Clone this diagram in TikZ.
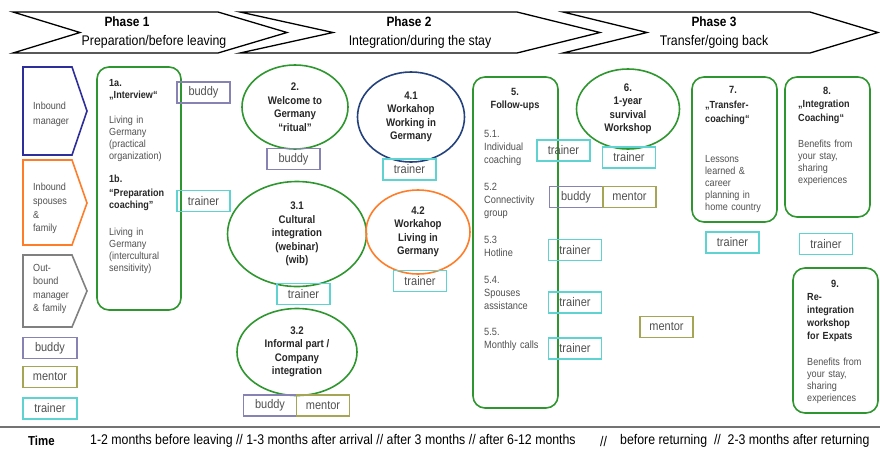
\documentclass[tikz,border=0pt]{standalone}
\usepackage{fontspec}
\setmainfont{Liberation Sans}[FakeStretch=0.88]
\usetikzlibrary{shapes.geometric}
\definecolor{grn}{RGB}{46,150,46}
\definecolor{navy}{RGB}{45,45,155}
\definecolor{dblue}{RGB}{35,65,125}
\definecolor{orng}{RGB}{255,125,40}
\definecolor{bdy}{RGB}{135,130,180}
\definecolor{mnt}{RGB}{165,165,85}
\definecolor{trn}{RGB}{95,210,210}
\definecolor{txt}{RGB}{80,80,80}
\tikzstyle{phase}=[draw=black, line width=1.3pt, fill=white]
\tikzstyle{ptitle}=[inner sep=0pt, font=\bfseries\fontsize{13.5}{14}\selectfont]
\tikzstyle{psub}=[inner sep=0pt, font=\fontsize{14}{15}\selectfont]
\tikzstyle{group}=[line width=1.6pt]
\tikzstyle{role}=[draw, minimum width=53pt, minimum height=21pt, inner sep=0pt, line width=1.3pt, text=txt, font=\fontsize{12.5}{13}\selectfont]
\tikzstyle{buddy}=[role, draw=bdy]
\tikzstyle{mentor}=[role, draw=mnt]
\tikzstyle{trainer}=[role, draw=trn]
\tikzstyle{event}=[ellipse, draw=grn, line width=1.6pt, inner sep=0pt, align=center, text=black!85, font=\bfseries\fontsize{11}{13.5}\selectfont]
\tikzstyle{stage}=[draw=grn, line width=1.6pt, rounded corners=12pt]
\tikzstyle{desc}=[anchor=north west, inner sep=0pt, align=left, text=txt, font=\fontsize{10.3}{12}\selectfont]
\tikzstyle{stitle}=[inner sep=0pt, align=center, text=black!85, font=\bfseries\fontsize{10.5}{13}\selectfont]
\tikzstyle{timeline}=[anchor=west, inner sep=0pt, font=\fontsize{14}{15}\selectfont]
\newcommand{\hd}[1]{{\color{black!85}\bfseries #1}}

\begin{document}
\begin{tikzpicture}[x=1pt, y=-1pt]
	\useasboundingbox (0,0) rectangle (880,448);
	%% phases
	\draw[phase] (13,12) -- (218,12) -- (287,32.5) -- (218,53) -- (13,53) -- (80,32.5) -- cycle;
	\draw[phase] (240,12) -- (517,12) -- (600,32.5) -- (517,53) -- (240,53) -- (333,32.5) -- cycle;
	\draw[phase] (563,12) -- (810,12) -- (878,32.5) -- (810,53) -- (563,53) -- (647,32.5) -- cycle;
	\draw (127,22) node[ptitle] (p1) {Phase 1};
	\draw (154,42) node[psub] (p1s) {Preparation/before leaving};
	\draw (409,22) node[ptitle] (p2) {Phase 2};
	\draw (420,42) node[psub] (p2s) {Integration/during the stay};
	\draw (714,22) node[ptitle] (p3) {Phase 3};
	\draw (714,42) node[psub] (p3s) {Transfer/going back};
	%%%%%%
	\draw[group, draw=navy] (23,67) -- (72,67) -- (87,111) -- (72,155) -- (23,155) -- cycle;
	\draw[group, draw=orng] (23,160) -- (72,160) -- (87,203) -- (72,245) -- (23,245) -- cycle;
	\draw[group, draw=black!50] (23,255) -- (72,255) -- (87,291) -- (72,327) -- (23,327) -- cycle;
	\draw (33,102) node[desc, text width=52, font=\fontsize{10.3}{15}\selectfont] (g1) {Inbound\\ manager};
	\draw (33,183) node[desc, text width=52, font=\fontsize{10.3}{13.7}\selectfont] (g2) {Inbound\\ spouses\\ \&\\ family};
	\draw (33,264) node[desc, text width=52, font=\fontsize{10.3}{13.5}\selectfont] (g3) {Out-\\ bound\\ manager\\ \& family};
	%%
	\draw (50,348) node[buddy, minimum width=54pt] (lb) {buddy};
	\draw (50,377) node[mentor, minimum width=54pt] (lm) {mentor};
	\draw (50,408.5) node[trainer, minimum width=54pt] (lt) {trainer};
	%%%%%%
	\draw[stage] (97,67) rectangle (181,310);
	\draw (109,79) node[desc, text width=72] (s1) {\hd{1a.}\\ \hd{„Interview“}\\[13pt] Living in\\ Germany\\ (practical\\ organization)\\[11pt] \hd{1b.}\\[2pt] \hd{“Preparation\\ coaching”}\\[15pt] Living in\\ Germany\\ (intercultural\\ sensitivity)};
	\draw (203.5,92.5) node[buddy] (b1) {buddy};
	\draw (203.5,201) node[trainer] (t1) {trainer};
	%%%%%%
	\draw (295,107) node[event, minimum width=106pt, minimum height=84pt] (e2) {2.\\ Welcome to\\ Germany\\ “ritual”};
	\draw (293.5,159) node[buddy] (b2) {buddy};
	\draw (297,234) node[event, minimum width=139pt, minimum height=105pt] (e31) {3.1\\ Cultural\\ integration\\ (webinar)\\ (wib)};
	\draw (303.5,294) node[trainer] (t31) {trainer};
	\draw (297,352) node[event, minimum width=120pt, minimum height=87pt] (e32) {3.2\\ Informal part /\\ Company\\ integration};
	\draw (270,405.5) node[buddy] (b32) {buddy};
	\draw (323,405.5) node[mentor] (m32) {mentor};
	%%
	\draw (411,117) node[event, draw=dblue, minimum width=107pt, minimum height=90pt] (e41) {4.1\\ Workahop\\ Working in\\ Germany};
	\draw (409.5,169.5) node[trainer] (t41) {trainer};
	\draw (418,232) node[event, draw=orng, minimum width=104pt, minimum height=84pt] (e42) {4.2\\ Workahop\\ Living in\\ Germany};
	\draw (420,281) node[trainer] (t42) {trainer};
	%%%%%%
	\draw[stage] (473,77) rectangle (558,408);
	\draw (515,99) node[stitle] (s5) {5.\\ Follow-ups};
	\draw (484,130) node[desc, text width=72, font=\fontsize{10.5}{13}\selectfont] (s5l) {5.1.\\ Individual\\ coaching\\[14pt] 5.2\\ Connectivity\\ group\\[14pt] 5.3\\ Hotline\\[14pt] 5.4.\\ Spouses\\ assistance\\[13pt] 5.5.\\ Monthly calls};
	\draw (563.5,150.5) node[trainer] (t51) {trainer};
	\draw (576,197) node[buddy] (b52) {buddy};
	\draw (629.5,197) node[mentor] (m52) {mentor};
	\draw (575,250) node[trainer] (t53) {trainer};
	\draw (575,302.5) node[trainer] (t54) {trainer};
	\draw (575,348.5) node[trainer] (t55) {trainer};
	%%
	\draw (628,109) node[event, minimum width=103pt, minimum height=80pt] (e6) {6.\\ 1-year\\ survival\\ Workshop};
	\draw (629,157.5) node[trainer] (t6) {trainer};
	\draw (666.5,327) node[mentor] (m9) {mentor};
	%%%%%%
	\draw[stage] (692,77) rectangle (777,222);
	\draw (733,90) node[stitle] (s7) {7.};
	\draw (705,101) node[desc, text width=70] (s7l) {\hd{„Transfer-}\\[2pt] \hd{coaching“}\\[28pt] Lessons\\ learned \&\\ career\\ planning in\\ home country};
	\draw (732.5,242.5) node[trainer] (t7) {trainer};
	%%
	\draw[stage] (785,77) rectangle (870,217);
	\draw (827,91) node[stitle] (s8) {8.};
	\draw (798,100) node[desc, text width=70] (s8l) {\hd{„Integration}\\[2pt] \hd{Coaching“}\\[14pt] Benefits from\\ your stay,\\ sharing\\ experiences};
	\draw (826,244) node[trainer] (t8) {trainer};
	%%
	\draw[stage] (793,268) rectangle (878,413);
	\draw (835,284) node[stitle] (s9) {9.};
	\draw (807,293) node[desc, text width=68] (s9l) {\hd{Re-}\\[1pt] \hd{integration}\\[1pt] \hd{workshop}\\[1.5pt] \hd{for Expats}\\[14pt] Benefits from\\ your stay,\\ sharing\\ experiences};
	%%%%%%
	\draw[line width=2pt, black!55] (0,427) -- (880,427);
	\draw (28,441) node[timeline, font=\bfseries\fontsize{13}{14}\selectfont] (time) {Time};
	\draw (90,441) node[timeline] (tl) {1-2 months before leaving // 1-3 months after arrival // after 3 months // after 6-12 months};
	\draw (600,441) node[timeline] (tm) {//};
	\draw (620,441) node[timeline] (tr) {before returning~ //~ 2-3 months after returning};
\end{tikzpicture}
\end{document}
